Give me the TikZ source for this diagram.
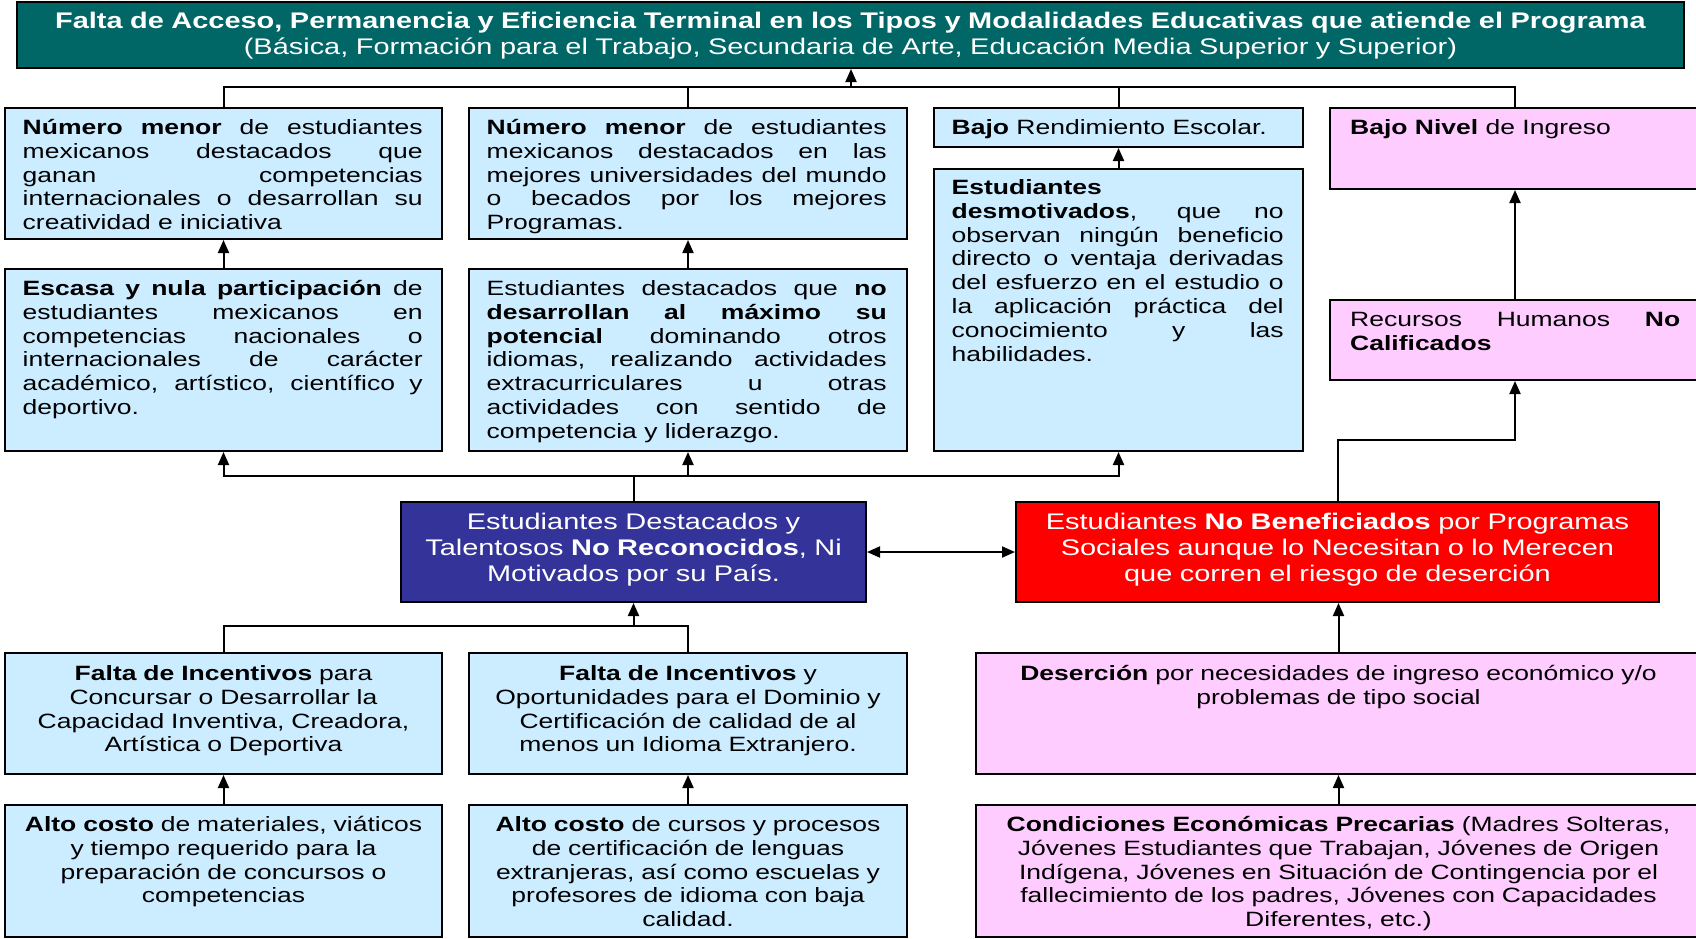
\documentclass[tikz,border=0pt]{standalone}
\usepackage{fontspec}
\setmainfont{Liberation Sans}[FakeStretch=1.28]
\usetikzlibrary{arrows.meta}
\definecolor{tealA}{RGB}{0,102,102}
\definecolor{lblue}{RGB}{204,236,255}
\definecolor{lpink}{RGB}{255,204,255}
\definecolor{dblue}{RGB}{51,51,153}
\definecolor{bred}{RGB}{255,0,0}
\newcommand\bodyfont{\fontsize{20.7}{23.8}\selectfont\hyphenpenalty=10000\tolerance=10000}
\newcommand\bigfont{\fontsize{22.6}{26}\selectfont\hyphenpenalty=10000\tolerance=10000}
\begin{document}
\begin{tikzpicture}[x=1pt,y=-1pt,
  box/.style={draw=black,line width=2pt,inner sep=0pt,anchor=north west},
  jtxt/.style={inner sep=0pt,anchor=base west,font=\bodyfont,align=justify},
  ctxt/.style={inner sep=0pt,anchor=base,font=\bodyfont,align=center},
  conn/.style={line width=2pt,line cap=rect},
  arr/.style={conn,-{Triangle[length=13pt,width=11pt]}},
  arrb/.style={conn,{Triangle[length=13pt,width=11pt]}-{Triangle[length=13pt,width=11pt]}}]
\useasboundingbox (0,0) rectangle (1696,938);
\fill[white] (0,0) rectangle (1696,938);
% boxes
\node[box,fill=tealA,minimum width=1667pt,minimum height=66pt] (T) at (16,1) {};
\node[box,fill=lblue,minimum width=437pt,minimum height=131pt] (A1) at (4,107) {};
\node[box,fill=lblue,minimum width=438pt,minimum height=131pt] (A2) at (468,107) {};
\node[box,fill=lblue,minimum width=369pt,minimum height=39pt] (A3) at (933,107) {};
\node[box,fill=lpink,minimum width=370pt,minimum height=81pt] (A4) at (1329,107) {};
\node[box,fill=lblue,minimum width=437pt,minimum height=182pt] (B1) at (4,268) {};
\node[box,fill=lblue,minimum width=438pt,minimum height=182pt] (B2) at (468,268) {};
\node[box,fill=lblue,minimum width=369pt,minimum height=282pt] (B3) at (933,168) {};
\node[box,fill=lpink,minimum width=370pt,minimum height=80pt] (B4) at (1329,299) {};
\node[box,fill=dblue,minimum width=465pt,minimum height=100pt] (C1) at (400,501) {};
\node[box,fill=bred,minimum width=643pt,minimum height=100pt] (C2) at (1015,501) {};
\node[box,fill=lblue,minimum width=437pt,minimum height=121pt] (D1) at (4,652) {};
\node[box,fill=lblue,minimum width=438pt,minimum height=121pt] (D2) at (468,652) {};
\node[box,fill=lpink,minimum width=725pt,minimum height=121pt] (D3) at (975,652) {};
\node[box,fill=lblue,minimum width=437pt,minimum height=132pt] (E1) at (4,804) {};
\node[box,fill=lblue,minimum width=438pt,minimum height=132pt] (E2) at (468,804) {};
\node[box,fill=lpink,minimum width=725pt,minimum height=132pt] (E3) at (975,804) {};
% texts
\node[ctxt,font=\bigfont,text=white,text width=1640pt] (Tt) at ([shift={(0,27.6)}]T.north)
 {\textbf{Falta de Acceso, Permanencia y Eficiencia Terminal en los Tipos y Modalidades Educativas que atiende el Programa}\\(Básica, Formación para el Trabajo, Secundaria de Arte, Educación Media Superior y Superior)};
\node[jtxt,text width=400pt] (A1t) at ([shift={(18.5,27.5)}]A1.north west)
 {\textbf{Número menor} de estudiantes\linebreak mexicanos destacados que\linebreak ganan competencias\linebreak internacionales o desarrollan su\linebreak creatividad e iniciativa};
\node[jtxt,text width=400pt] (A2t) at ([shift={(18.5,27.5)}]A2.north west)
 {\textbf{Número menor} de estudiantes\linebreak mexicanos destacados en las\linebreak mejores universidades del mundo\linebreak o becados por los mejores\linebreak Programas.};
\node[jtxt,text width=332pt] (A3t) at ([shift={(18.5,27.5)}]A3.north west)
 {\textbf{Bajo} Rendimiento Escolar.};
\node[jtxt,text width=330pt] (A4t) at ([shift={(21,27.5)}]A4.north west)
 {\textbf{Bajo Nivel} de Ingreso};
\node[jtxt,text width=400pt] (B1t) at ([shift={(18.5,27.5)}]B1.north west)
 {\textbf{Escasa y nula participación} de\linebreak estudiantes mexicanos en\linebreak competencias nacionales o\linebreak internacionales de carácter\linebreak académico, artístico, científico y\linebreak deportivo.};
\node[jtxt,text width=400pt] (B2t) at ([shift={(18.5,27.5)}]B2.north west)
 {Estudiantes destacados que \textbf{no\linebreak desarrollan al máximo su\linebreak potencial} dominando otros\linebreak idiomas, realizando actividades\linebreak extracurriculares u otras\linebreak actividades con sentido de\linebreak competencia y liderazgo.};
\node[jtxt,text width=332pt] (B3t) at ([shift={(18.5,26.5)}]B3.north west)
 {\textbf{Estudiantes\linebreak desmotivados}, que no\linebreak observan ningún beneficio\linebreak directo o ventaja derivadas\linebreak del esfuerzo en el estudio o\linebreak la aplicación práctica del\linebreak conocimiento y las\linebreak habilidades.};
\node[jtxt,text width=330pt] (B4t) at ([shift={(21,27.5)}]B4.north west)
 {Recursos Humanos \textbf{No\linebreak Calificados}};
\node[ctxt,font=\bigfont,text=white,text width=445pt] (C1t) at ([shift={(0,28)}]C1.north)
 {Estudiantes Destacados y\\Talentosos \textbf{No Reconocidos}, Ni\\Motivados por su País.};
\node[ctxt,font=\bigfont,text=white,text width=620pt] (C2t) at ([shift={(0,28)}]C2.north)
 {Estudiantes \textbf{No Beneficiados} por Programas\\Sociales aunque lo Necesitan o lo Merecen\\que corren el riesgo de deserción};
\node[ctxt,text width=420pt] (D1t) at ([shift={(0,28.5)}]D1.north)
 {\textbf{Falta de Incentivos} para\\Concursar o Desarrollar la\\Capacidad Inventiva, Creadora,\\Artística o Deportiva};
\node[ctxt,text width=420pt] (D2t) at ([shift={(0,28.5)}]D2.north)
 {\textbf{Falta de Incentivos} y\\Oportunidades para el Dominio y\\Certificación de calidad de al\\menos un Idioma Extranjero.};
\node[ctxt,text width=700pt] (D3t) at ([shift={(0,28.5)}]D3.north)
 {\textbf{Deserción} por necesidades de ingreso económico y/o\\problemas de tipo social};
\node[ctxt,text width=420pt] (E1t) at ([shift={(0,27.5)}]E1.north)
 {\textbf{Alto costo} de materiales, viáticos\\y tiempo requerido para la\\preparación de concursos o\\competencias};
\node[ctxt,text width=420pt] (E2t) at ([shift={(0,27.5)}]E2.north)
 {\textbf{Alto costo} de cursos y procesos\\de certificación de lenguas\\extranjeras, así como escuelas y\\profesores de idioma con baja\\calidad.};
\node[ctxt,text width=700pt] (E3t) at ([shift={(0,27.5)}]E3.north)
 {\textbf{Condiciones Económicas Precarias} (Madres Solteras,\\Jóvenes Estudiantes que Trabajan, Jóvenes de Origen\\Indígena, Jóvenes en Situación de Contingencia por el\\fallecimiento de los padres, Jóvenes con Capacidades\\Diferentes, etc.)};
% connectors
\coordinate (bus1) at (851,86.5);
\draw[conn] (A1.north) -- (A1.north |- bus1) -- (A4.north |- bus1) -- (A4.north);
\draw[conn] (A2.north) -- (A2.north |- bus1);
\draw[conn] (A3.north) -- (A3.north |- bus1);
\draw[arr] (bus1) -- (bus1 |- T.south);
\draw[arr] (B1.north) -- (A1.south);
\draw[arr] (B2.north) -- (A2.south);
\draw[arr] (B3.north) -- (A3.south);
\draw[arr] (B4.north) -- (A4.south);
\coordinate (bus2) at (633,476);
\draw[conn] (C1.north) -- (C1.north |- bus2);
\draw[conn] (B1.south |- bus2) -- (B3.south |- bus2);
\draw[arr] (B1.south |- bus2) -- (B1.south);
\draw[arr] (B2.south |- bus2) -- (B2.south);
\draw[arr] (B3.south |- bus2) -- (B3.south);
\draw[arr] (C2.north) -- ++(0,-61) -| (B4.south);
\draw[arrb] (C1.east) -- (C2.west);
\coordinate (bus3) at (633,626);
\draw[conn] (D1.north) -- (D1.north |- bus3) -- (D2.north |- bus3) -- (D2.north);
\draw[arr] (C1.south |- bus3) -- (C1.south);
\draw[arr] (D3.north) -- (D3.north |- C2.south);
\draw[arr] (E1.north) -- (D1.south);
\draw[arr] (E2.north) -- (D2.south);
\draw[arr] (E3.north) -- (D3.south);
\end{tikzpicture}
\end{document}
